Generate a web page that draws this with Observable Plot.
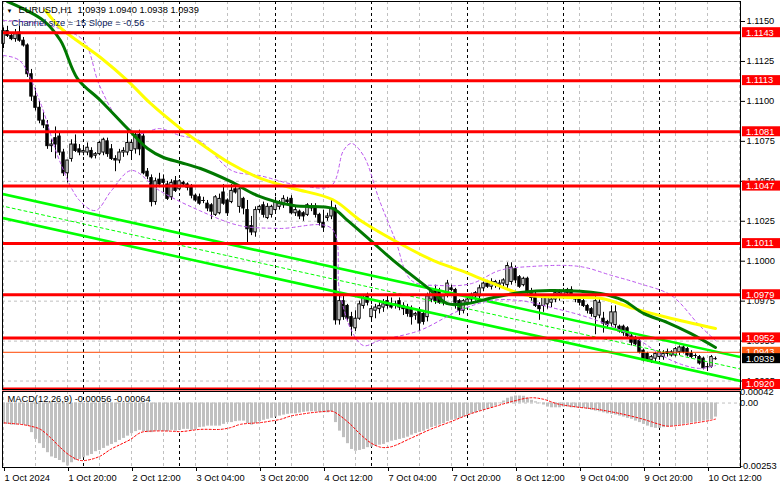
<!DOCTYPE html>
<html><head><meta charset="utf-8">
<script src="https://cdn.jsdelivr.net/npm/d3@7"></script>
<script src="https://cdn.jsdelivr.net/npm/@observablehq/plot@0.6"></script>
<style>
html,body{margin:0;padding:0;background:#fff;}
#chart{position:relative;width:781px;height:489px;overflow:hidden;background:#fff;}
#chart svg{position:absolute;left:0;}
</style></head><body><div id="chart"></div>
<script>
// ---------- DATA (EURUSD H1, bar 0 = 1 Oct 2024 04:00) ----------
const opens = [1.1136,1.1144,1.1141,1.1139,1.1143,1.1138,1.1135,1.1117,1.1103,1.1096,
1.1088,1.1085,1.1072,1.1077,1.1078,1.1068,1.1055,1.1064,1.1073,1.1070,
1.1068,1.1068,1.1069,1.1066,1.1067,1.1068,1.1075,1.1070,1.1064,1.1063,
1.1068,1.1068,1.1069,1.1070,1.1079,1.1078,1.1056,1.1052,1.1037,1.1051,
1.1051,1.1048,1.1040,1.1050,1.1045,1.1049,1.1048,1.1047,1.1041,1.1040,
1.1038,1.1036,1.1035,1.1029,1.1030,1.1043,1.1038,1.1037,1.1045,1.1034,
1.1039,1.1032,1.1022,1.1018,1.1032,1.1035,1.1027,1.1029,1.1032,1.1034,
1.1035,1.1038,1.1039,1.1030,1.1031,1.1030,1.1029,1.1033,1.1034,1.1029,
1.1024,1.1027,1.1028,1.1033,1.0963,1.0975,1.0972,1.0965,1.0958,1.0964,
1.0972,1.0978,1.0965,1.0969,1.0970,1.0971,1.0975,1.0973,1.0972,1.0975,
1.0972,1.0971,1.0970,1.0966,1.0969,1.0967,1.0965,1.0976,1.0982,1.0981,
1.0974,1.0979,1.0983,1.0982,1.0975,1.0969,1.0974,1.0976,1.0978,1.0978,
1.0983,1.0986,1.0984,1.0985,1.0985,1.0986,1.0985,1.0987,1.0995,1.0990,
1.0985,1.0989,1.0981,1.0979,1.0972,1.0972,1.0973,1.0974,1.0976,1.0977,
1.0978,1.0980,1.0982,1.0978,1.0976,1.0975,1.0972,1.0970,1.0965,1.0966,
1.0964,1.0962,1.0961,1.0960,1.0959,1.0959,1.0958,1.0953,1.0952,1.0950,
1.0944,1.0942,1.0938,1.0939,1.0940,1.0940,1.0943,1.0941,1.0941,1.0943,
1.0946,1.0945,1.0942,1.0941,1.0940,1.0939,1.0934,1.0934,1.0939];
const highs = [1.1146,1.1147,1.1143,1.1145,1.1147,1.1140,1.1136,1.1120,1.1108,1.1100,
1.1093,1.1088,1.1076,1.1084,1.1080,1.1070,1.1063,1.1076,1.1079,1.1073,
1.1071,1.1074,1.1071,1.1068,1.1075,1.1077,1.1077,1.1073,1.1066,1.1070,
1.1071,1.1083,1.1076,1.1081,1.1082,1.1081,1.1058,1.1054,1.1052,1.1055,
1.1054,1.1050,1.1051,1.1053,1.1051,1.1050,1.1049,1.1048,1.1042,1.1042,
1.1040,1.1038,1.1036,1.1041,1.1042,1.1048,1.1039,1.1048,1.1048,1.1047,
1.1040,1.1038,1.1028,1.1034,1.1035,1.1037,1.1036,1.1035,1.1040,1.1038,
1.1041,1.1040,1.1041,1.1034,1.1032,1.1031,1.1036,1.1036,1.1036,1.1030,
1.1032,1.1030,1.1038,1.1035,1.0981,1.0978,1.0973,1.0968,1.0969,1.0975,
1.0979,1.0980,1.0972,1.0973,1.0974,1.0976,1.0979,1.0977,1.0975,1.0977,
1.0974,1.0973,1.0972,1.0968,1.0971,1.0968,1.0980,1.0982,1.0985,1.0983,
1.0979,1.0988,1.0985,1.0983,1.0976,1.0976,1.0977,1.0980,1.0981,1.0985,
1.0987,1.0988,1.0989,1.0988,1.0988,1.0989,1.0999,1.0999,1.0997,1.0991,
1.0990,1.0990,1.0983,1.0981,1.0974,1.0979,1.0978,1.0978,1.0982,1.0982,
1.0983,1.0983,1.0984,1.0979,1.0977,1.0976,1.0973,1.0971,1.0978,1.0976,
1.0968,1.0963,1.0972,1.0972,1.0960,1.0960,1.0959,1.0955,1.0953,1.0951,
1.0945,1.0943,1.0941,1.0943,1.0944,1.0944,1.0945,1.0944,1.0946,1.0947,
1.0947,1.0946,1.0944,1.0942,1.0941,1.0940,1.0936,1.0941,1.0940];
const lows = [1.1133,1.1140,1.1138,1.1137,1.1137,1.1134,1.1115,1.1100,1.1094,1.1086,
1.1083,1.1070,1.1068,1.1064,1.1066,1.1053,1.1049,1.1062,1.1068,1.1066,
1.1066,1.1066,1.1064,1.1064,1.1066,1.1066,1.1065,1.1063,1.1056,1.1061,
1.1065,1.1066,1.1063,1.1067,1.1066,1.1054,1.1051,1.1034,1.1035,1.1046,
1.1043,1.1038,1.1038,1.1043,1.1044,1.1047,1.1044,1.1039,1.1037,1.1035,
1.1036,1.1031,1.1026,1.1028,1.1029,1.1035,1.1028,1.1036,1.1042,1.1030,
1.1029,1.1010,1.1016,1.1015,1.1030,1.1027,1.1026,1.1027,1.1030,1.1032,
1.1033,1.1036,1.1029,1.1028,1.1026,1.1025,1.1028,1.1031,1.1027,1.1022,
1.1018,1.1025,1.1026,1.0960,1.0960,1.0963,1.0962,1.0953,1.0956,1.0963,
1.0970,1.0972,1.0962,1.0964,1.0967,1.0968,1.0970,1.0970,1.0970,1.0969,
1.0966,1.0965,1.0960,1.0963,1.0956,1.0960,1.0962,1.0974,1.0973,1.0973,
1.0972,1.0977,1.0981,1.0970,1.0966,1.0967,1.0972,1.0974,1.0975,1.0976,
1.0981,1.0983,1.0982,1.0983,1.0982,1.0984,1.0983,1.0985,1.0986,1.0983,
1.0984,1.0978,1.0975,1.0971,1.0963,1.0968,1.0970,1.0971,1.0974,1.0975,
1.0976,1.0978,1.0976,1.0974,1.0972,1.0971,1.0967,1.0965,1.0954,1.0964,
1.0955,1.0958,1.0959,1.0958,1.0955,1.0953,1.0952,1.0947,1.0947,1.0942,
1.0937,1.0937,1.0936,1.0937,1.0938,1.0938,1.0940,1.0940,1.0940,1.0941,
1.0942,1.0940,1.0939,1.0939,1.0935,1.0932,1.0931,1.0933,1.0938];
const closes = [1.1144,1.1141,1.1139,1.1142,1.1138,1.1135,1.1117,1.1103,1.1096,1.1088,
1.1085,1.1072,1.1073,1.1073,1.1068,1.1055,1.1063,1.1073,1.1069,1.1068,
1.1069,1.1071,1.1065,1.1067,1.1074,1.1076,1.1067,1.1064,1.1063,1.1068,
1.1069,1.1074,1.1074,1.1079,1.1070,1.1055,1.1053,1.1037,1.1050,1.1048,
1.1049,1.1039,1.1049,1.1044,1.1050,1.1048,1.1046,1.1041,1.1038,1.1036,
1.1038,1.1033,1.1031,1.1040,1.1039,1.1036,1.1030,1.1044,1.1043,1.1045,
1.1033,1.1020,1.1018,1.1032,1.1034,1.1029,1.1034,1.1034,1.1037,1.1036,
1.1039,1.1037,1.1030,1.1032,1.1028,1.1028,1.1035,1.1034,1.1029,1.1024,
1.1021,1.1028,1.1033,1.0963,1.0975,1.0965,1.0964,1.0959,1.0964,1.0973,
1.0977,1.0974,1.0970,1.0971,1.0972,1.0973,1.0972,1.0971,1.0973,1.0971,
1.0970,1.0967,1.0965,1.0967,1.0961,1.0962,1.0978,1.0981,1.0975,1.0974,
1.0978,1.0986,1.0982,1.0974,1.0969,1.0975,1.0976,1.0979,1.0980,1.0983,
1.0986,1.0984,1.0987,1.0987,1.0986,1.0988,1.0997,1.0996,1.0988,1.0984,
1.0989,1.0980,1.0977,1.0972,1.0970,1.0978,1.0977,1.0976,1.0980,1.0980,
1.0981,1.0982,1.0978,1.0976,1.0974,1.0972,1.0969,1.0967,1.0975,1.0974,
1.0961,1.0960,1.0968,1.0968,1.0956,1.0955,1.0953,1.0949,1.0948,1.0943,
1.0938,1.0938,1.0940,1.0942,1.0943,1.0942,1.0942,1.0943,1.0945,1.0946,
1.0943,1.0941,1.0940,1.0941,1.0936,1.0933,1.0934,1.0940,1.0939];

const yellowMaBar = [10.5,14.25,24.25,31,36.75,44.25,49.25,56.75,64.25,72.5,82.25,89.25,100,107.5,114.25,122.5,130,141,149.25,157.5,166,178];
const yellowMaVal = [1.1157,1.1146,1.11275,1.1113,1.10987,1.1083,1.10737,1.10611,1.10518,1.10455,1.10386,1.10255,1.10098,1.10004,1.09942,1.0986,1.09792,1.09773,1.09768,1.09705,1.09648,1.09579];
const greenMaBar = [1,10,14.25,18.5,24.25,31,36,40,44.25,49.25,56.75,63.5,72.5,82.25,86,91.75,97.5,106,111,116,122.5,129.25,136.75,149.25,155,160,166,171.75,178];
const greenMaVal = [1.11625,1.11506,1.11381,1.11143,1.11006,1.1083,1.10705,1.10649,1.10618,1.1058,1.10499,1.10411,1.10348,1.1033,1.10255,1.1013,1.10004,1.09835,1.09735,1.09735,1.09773,1.09804,1.09817,1.09798,1.09754,1.09673,1.09616,1.09548,1.0946];
// Bands (purple dashed)
const upperBandBar = [0,7,14,20,24,29,34,39,44,49,57,64,74,82,85,87,90,94,98,102,109,117,124,132,144,152,159,167,174,178];
const upperBandVal = [1.11506,1.11494,1.11456,1.11381,1.1110,1.1088,1.10799,1.1083,1.10787,1.10755,1.10568,1.10536,1.10474,1.10474,1.10693,1.10737,1.10661,1.1038,1.1013,1.09879,1.09848,1.0986,1.09942,1.09967,1.09967,1.09911,1.0986,1.09785,1.09598,1.09504];
const lowerBandBar = [0,4,9,14,19,23,27,32,39,49,59,69,82,84,87,90,94,104,114,122,129,137,147,157,167,174,178];
const lowerBandVal = [1.11287,1.11256,1.11006,1.1063,1.1038,1.10317,1.10442,1.10568,1.10442,1.10317,1.10223,1.10205,1.10205,1.09817,1.09566,1.09472,1.09504,1.09566,1.09692,1.09754,1.09754,1.0971,1.09641,1.09535,1.09379,1.09329,1.09347];
// Regression channel endpoints
const channelBar = [-0.75, 184.25];
const channelUpper = [1.10423, 1.09400];
const channelMid = [1.10348, 1.09325];
const channelLower = [1.10273, 1.09250];
// Levels
const redLevels = [1.1143,1.1113,1.1081,1.1047,1.1011,1.0979,1.0952,1.0920];
const orangeLevels = [1.0943];
const bidLevels = [1.0939];
const priceTicks = [1.1150,1.1125,1.1100,1.1075,1.1050,1.1025,1.1000,1.0975,1.0950,1.0925];
// Time axis
const tickBars = [0,16,32,48,64,80,96,112,128,144,160,176];
const tickLabels = ["1 Oct 2024","1 Oct 20:00","2 Oct 12:00","3 Oct 04:00","3 Oct 20:00","4 Oct 12:00","7 Oct 04:00","7 Oct 20:00","8 Oct 12:00","9 Oct 04:00","9 Oct 20:00","10 Oct 12:00"];
const gridBars = [0,8,16,24,32,40,48,56,64,72,80,88,96,104,112,120,128,136,144,152,160,168,176,184];
const daySeparators = [20,44,68,92,116,140,164];
// MACD(12,26,9) histogram per bar and signal line (sampled)
const macdHist = [-0.00085,-0.00085,-0.00088,-0.00088,-0.00085,-0.00088,-0.00092,-0.00118,-0.00145,-0.00162,
-0.00181,-0.00198,-0.00215,-0.00221,-0.00229,-0.00238,-0.00251,-0.00238,-0.00229,-0.00225,
-0.00218,-0.00211,-0.00205,-0.00194,-0.00189,-0.00181,-0.00172,-0.00165,-0.00158,-0.00149,
-0.00141,-0.00132,-0.00122,-0.00114,-0.00109,-0.00114,-0.00118,-0.00118,-0.00112,-0.00112,
-0.00114,-0.00114,-0.00109,-0.00112,-0.00109,-0.00105,-0.00105,-0.00109,-0.00105,-0.00098,
-0.00096,-0.00092,-0.00092,-0.00092,-0.00092,-0.00085,-0.00078,-0.00078,-0.00074,-0.00072,
-0.00072,-0.00082,-0.00088,-0.00082,-0.00074,-0.00069,-0.00065,-0.00061,-0.00056,-0.00052,
-0.00048,-0.00045,-0.00043,-0.00043,-0.00040,-0.00037,-0.00035,-0.00035,-0.00035,-0.00037,
-0.00039,-0.00039,-0.00035,-0.00078,-0.00112,-0.00138,-0.00162,-0.00185,-0.00192,-0.00189,
-0.00185,-0.00178,-0.00176,-0.00172,-0.00168,-0.00165,-0.00158,-0.00152,-0.00149,-0.00145,
-0.00141,-0.00136,-0.00128,-0.00122,-0.00117,-0.00112,-0.00105,-0.00098,-0.00093,-0.00088,
-0.00082,-0.00074,-0.00069,-0.00065,-0.00061,-0.00056,-0.00048,-0.00043,-0.00039,-0.00032,
-0.00029,-0.00025,-0.00019,-0.00012,-0.00003,0.00008,0.00019,0.00024,0.00028,0.00028,
0.00027,0.00019,0.00011,0.00005,-0.00003,-0.00008,-0.00016,-0.00019,-0.00019,-0.00019,
-0.00016,-0.00016,-0.00019,-0.00019,-0.00021,-0.00021,-0.00025,-0.00029,-0.00032,-0.00035,
-0.00039,-0.00043,-0.00045,-0.00048,-0.00052,-0.00056,-0.00061,-0.00065,-0.00072,-0.00078,
-0.00085,-0.00092,-0.00098,-0.00101,-0.00101,-0.00098,-0.00096,-0.00093,-0.00090,-0.00088,
-0.00085,-0.00082,-0.00080,-0.00077,-0.00074,-0.00072,-0.00069,-0.00066,-0.00056];
const signalBar = [-0.75,4.25,6.75,9.25,11.75,14.25,16.75,19.25,21.75,24.25,26.75,29.25,31.75,34.25,36.75,41.75,44.25,49.25,54.25,56.75,59.25,64.25,66.75,69.25,71.75,74.25,76.75,79.25,81.75,82.6,84.25,86.75,89.25,91.75,94.25,96.75,101.75,106.75,112.2,116.75,121.75,127.6,131.75,135,138.4,143.4,148.4,155,160,163.4,165.9,169.25,173.4,176.75,178];
const signalVal = [-0.00078,-0.00085,-0.00092,-0.00105,-0.00138,-0.00178,-0.00211,-0.00229,-0.00225,-0.00211,-0.00185,-0.00165,-0.00145,-0.00118,-0.00112,-0.00112,-0.00114,-0.00105,-0.00105,-0.00098,-0.00085,-0.00078,-0.00072,-0.00065,-0.00052,-0.00045,-0.00039,-0.00035,-0.00032,-0.00035,-0.00052,-0.00085,-0.00125,-0.00158,-0.00176,-0.00175,-0.00141,-0.00105,-0.00072,-0.00043,-0.00019,0.00008,0.00021,0.00015,-0.00003,-0.00016,-0.00025,-0.00045,-0.00065,-0.00082,-0.00092,-0.00088,-0.00078,-0.00069,-0.00064];
const macdTop = 0.00042, macdBottom = -0.00253;

// ---------- BUILD ----------
const FONT = "Liberation Sans";
const FS = 9.3;
const candles = opens.map((o, i) => ({i, o, h: highs[i], l: lows[i], c: closes[i]}));
const pts = (bars, vals) => bars.map((b, k) => ({b, v: vals[k]}));
const xDomain = [-0.25, 184.25];
const gridStyle = {stroke: "#c0c0c0", strokeDasharray: "3,3", strokeWidth: 1};
const sepStyle = {stroke: "#000", strokeDasharray: "3,3", strokeWidth: 1};

function priceTags(levels, bg, fg) {
  return (index, scales, values, dim) => {
    const g = d3.create("svg:g").attr("font-family", FONT).attr("font-size", FS).attr("text-anchor", "start");
    const x0 = dim.width - dim.marginRight + 2;
    const yMax = dim.height - dim.marginBottom - 5;
    for (const v of levels) {
      const cy = Math.min(scales.y(v), yMax);
      g.append("rect").attr("x", x0).attr("y", cy - 5).attr("width", 38).attr("height", 10).attr("fill", bg);
      g.append("text").attr("x", x0 + 4).attr("y", cy).attr("dy", "0.36em").attr("text-anchor", "start").attr("fill", fg).text(v.toFixed(4));
    }
    return g.node();
  };
}

const main = Plot.plot({
  width: 781, height: 390,
  marginLeft: 2, marginRight: 41, marginTop: 1, marginBottom: 1,
  x: {type: "linear", domain: xDomain, axis: null},
  y: {domain: [1.091971, 1.116252], axis: null},
  style: {fontFamily: FONT, fontSize: FS + "px", background: "transparent", overflow: "visible"},
  marks: [
    Plot.ruleX(gridBars, {x: d => d, ...gridStyle}),
    Plot.ruleY(priceTicks, {y: d => d, ...gridStyle}),
    Plot.ruleX(daySeparators, {x: d => d, ...sepStyle}),
    // candles
    Plot.ruleX(candles, {x: "i", y1: "l", y2: "h", stroke: "#000", strokeWidth: 1}),
    Plot.rect(candles.filter(d => d.o !== d.c), {
      x1: d => d.i - 0.3, x2: d => d.i + 0.3,
      y1: d => Math.min(d.o, d.c), y2: d => Math.max(d.o, d.c),
      fill: d => d.c > d.o ? "#fff" : "#000", stroke: "#000", strokeWidth: 1
    }),
    Plot.ruleY(candles.filter(d => d.o === d.c), {y: "o", x1: d => d.i - 0.45, x2: d => d.i + 0.45, stroke: "#000"}),
    // regression channel
    Plot.line(pts(channelBar, channelUpper), {x: "b", y: "v", stroke: "#00ff00", strokeWidth: 2.6, clip: true}),
    Plot.line(pts(channelBar, channelMid), {x: "b", y: "v", stroke: "#00ff00", strokeWidth: 1, strokeDasharray: "3,3", clip: true}),
    Plot.line(pts(channelBar, channelLower), {x: "b", y: "v", stroke: "#00ff00", strokeWidth: 2.6, clip: true}),
    // bands
    Plot.line(pts(upperBandBar, upperBandVal), {x: "b", y: "v", stroke: "#bb55ee", strokeWidth: 1, strokeDasharray: "3,3", curve: "catmull-rom", clip: true}),
    Plot.line(pts(lowerBandBar, lowerBandVal), {x: "b", y: "v", stroke: "#bb55ee", strokeWidth: 1, strokeDasharray: "3,3", curve: "catmull-rom", clip: true}),
    // moving averages
    Plot.line(pts(yellowMaBar, yellowMaVal), {x: "b", y: "v", stroke: "#ffff00", strokeWidth: 3, curve: "catmull-rom", clip: true}),
    Plot.line(pts(greenMaBar, greenMaVal), {x: "b", y: "v", stroke: "#007800", strokeWidth: 3, curve: "catmull-rom", clip: true}),
    // levels
    Plot.ruleY(orangeLevels, {y: d => d, stroke: "#ff4500", strokeWidth: 1}),
    Plot.ruleY(redLevels, {y: d => d, stroke: "#ff0000", strokeWidth: 3}),
    Plot.frame({stroke: "#000"}),
    Plot.axisY({anchor: "right", ticks: priceTicks, tickFormat: d => d.toFixed(4), tickSize: 4, tickPadding: 2, label: null, fontSize: FS}),
    priceTags(redLevels, "#ff0000", "#fff"),
    priceTags(orangeLevels, "#ff5a10", "#fff"),
    priceTags(bidLevels, "#000", "#fff"),
    // header
    Plot.text(["▼"], {frameAnchor: "top-left", dx: 4, dy: 7, textAnchor: "start", lineAnchor: "top", fontSize: 6, fill: "#000"}),
    Plot.text(["EURUSD,H1  1.0939 1.0940 1.0938 1.0939"], {frameAnchor: "top-left", dx: 16, dy: 5, textAnchor: "start", lineAnchor: "top", fill: "#000"}),
    Plot.text(["Channel size = 15 Slope = -0.56"], {frameAnchor: "top-left", dx: 9, dy: 18, textAnchor: "start", lineAnchor: "top", fill: "#0a1a5a"})
  ]
});

const hist = macdHist.map((v, i) => ({i, v}));
const macdLabels = [
  {v: macdTop, t: "0.00042", dy: 6},
  {v: 0, t: "0.00", dy: 1},
  {v: macdBottom, t: "-0.00253", dy: -5}
];
const labelMap = new Map(tickBars.map((b, k) => [b, tickLabels[k]]));
const perPx = (macdTop - macdBottom) / 74;

const macd = Plot.plot({
  width: 781, height: 99,
  marginLeft: 2, marginRight: 41, marginTop: 1, marginBottom: 22,
  x: {type: "linear", domain: xDomain},
  y: {domain: [macdBottom - perPx, macdTop + perPx], axis: null},
  style: {fontFamily: FONT, fontSize: FS + "px", background: "transparent", overflow: "visible"},
  marks: [
    Plot.ruleX(gridBars, {x: d => d, ...gridStyle}),
    Plot.ruleX(daySeparators, {x: d => d, ...sepStyle}),
    Plot.ruleY([0], {y: d => d, ...gridStyle}),
    Plot.ruleX(hist, {x: "i", y1: 0, y2: "v", stroke: "#c0c0c0", strokeWidth: 3}),
    Plot.line(pts(signalBar, signalVal), {x: "b", y: "v", stroke: "#ff0000", strokeWidth: 1, strokeDasharray: "2,2", curve: "catmull-rom", clip: true}),
    Plot.frame({stroke: "#000"}),
    Plot.text(["MACD(12,26,9) -0.00056 -0.00064"], {frameAnchor: "top-left", dx: 5, dy: 4, textAnchor: "start", lineAnchor: "top", fill: "#000"}),
    Plot.text(macdLabels, {y: "v", text: "t", dy: "dy", frameAnchor: "right", dx: 6, textAnchor: "start", fill: "#000"}),
    Plot.axisX({ticks: tickBars, tickFormat: d => labelMap.get(d), tickSize: 4, tickPadding: 3, textAnchor: "start", dx: 1, label: null, fontSize: FS})
  ]
});

const host = document.getElementById("chart");
main.style.top = "0px";
macd.style.top = "390px";
host.appendChild(main);
host.appendChild(macd);
</script></body></html>
